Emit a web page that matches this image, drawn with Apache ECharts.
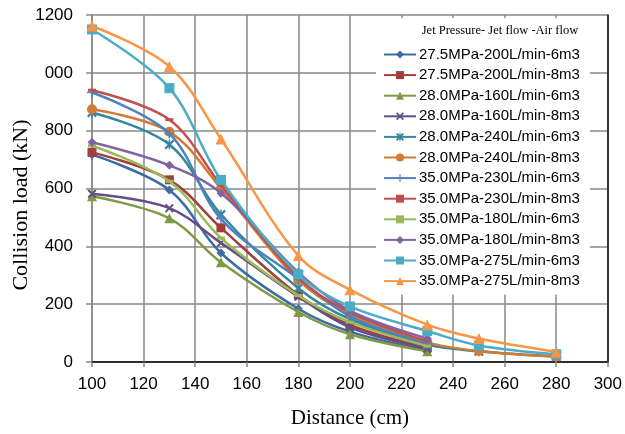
<!DOCTYPE html>
<html>
<head>
<meta charset="utf-8">
<script src="https://cdn.jsdelivr.net/npm/echarts@6/dist/echarts.min.js"></script>
<style>
  html, body { margin: 0; padding: 0; background: #fff; }
  #chart { width: 625px; height: 434px; }
</style>
</head>
<body>
<div id="chart"></div>
<script>
// Distances (cm) at which collision load was measured
const distShort = [100, 130, 150, 180, 200, 230];
const distLong = [100, 130, 150, 180, 200, 230, 250, 280];

// Series names: jet pressure - jet flow - air flow
const seriesNames = [
  '27.5MPa-200L/min-6m3',
  '27.5MPa-200L/min-8m3',
  '28.0MPa-160L/min-6m3',
  '28.0MPa-160L/min-8m3',
  '28.0MPa-240L/min-6m3',
  '28.0MPa-240L/min-8m3',
  '35.0MPa-230L/min-6m3',
  '35.0MPa-230L/min-8m3',
  '35.0MPa-180L/min-6m3',
  '35.0MPa-180L/min-8m3',
  '35.0MPa-275L/min-6m3',
  '35.0MPa-275L/min-8m3'
];

// Collision load (kN) per series
const load_275_200_6 = [717, 595, 377, 184, 105, 40];
const load_275_200_8 = [725, 630, 464, 232, 128, 50];
const load_280_160_6 = [573, 497, 345, 173, 96, 37];
const load_280_160_8 = [582, 532, 412, 226, 120, 45];
const load_280_240_6 = [863, 752, 510, 255, 148, 60, 37, 19];
const load_280_240_8 = [874, 796, 600, 283, 165, 68, 38, 18];
const load_350_230_6 = [932, 790, 495, 288, 158, 62];
const load_350_230_8 = [940, 838, 612, 292, 172, 72];
const load_350_180_6 = [748, 625, 429, 230, 138, 55];
const load_350_180_8 = [760, 680, 584, 310, 178, 81];
const load_350_275_6 = [1150, 947, 630, 303, 192, 107, 57, 27];
const load_350_275_8 = [1162, 1022, 771, 368, 250, 129, 81, 35];

const loads = [
  load_275_200_6, load_275_200_8, load_280_160_6, load_280_160_8,
  load_280_240_6, load_280_240_8, load_350_230_6, load_350_230_8,
  load_350_180_6, load_350_180_8, load_350_275_6, load_350_275_8
];

// Axis tick values
const xTicks = [100, 120, 140, 160, 180, 200, 220, 240, 260, 280, 300];
const yTicks = [0, 200, 400, 600, 800, 1000, 1200];
const yTickText = ['0', '200', '400', '600', '800', '000', '1200'];

const colors = [
  '#3D6BA6', '#A23F3C', '#7E9A44', '#664F85', '#33879E', '#D47A35',
  '#4F81BD', '#C0504D', '#9BBB59', '#8064A2', '#4BACC6', '#F79646'
];

const SYM_X = 'path://M1.6,0L5,3.4L8.4,0L10,1.6L6.6,5L10,8.4L8.4,10L5,6.6L1.6,10L0,8.4L3.4,5L0,1.6Z';
const SYM_STAR = 'path://M1.6,0L5,3.4L8.4,0L10,1.6L6.6,5L10,8.4L8.4,10L5,6.6L1.6,10L0,8.4L3.4,5L0,1.6ZM4.3,0H5.7V10H4.3Z';
const SYM_PLUS = 'path://M4.3,0H5.7V4.3H10V5.7H5.7V10H4.3V5.7H0V4.3H4.3Z';

const symbols = [
  ['diamond', 9], ['rect', 9], ['triangle', 10], [SYM_X, 9],
  [SYM_STAR, 10], ['circle', 10], [SYM_PLUS, 10], ['rect', [8, 3]],
  ['rect', [8, 3]], ['diamond', 9], ['rect', 10], ['triangle', 11]
];

const series = seriesNames.map((name, i) => {
  const xs = loads[i].length > distShort.length ? distLong : distShort;
  return {
    name: name,
    type: 'line',
    xAxisIndex: 0,
    yAxisIndex: 0,
    smooth: 0.35,
    data: loads[i].map((v, k) => [xs[k], v]),
    symbol: symbols[i][0],
    symbolSize: symbols[i][1],
    showAllSymbol: true,
    lineStyle: { width: 2.5, color: colors[i] },
    itemStyle: { color: colors[i] },
    emphasis: { disabled: true },
    z: 2 + i
  };
});

const chart = echarts.init(document.getElementById('chart'), null, { renderer: 'canvas' });

const gridGray = '#888888';
const labelFont = 'Liberation Sans, Arial, sans-serif';
const serifFont = 'Liberation Serif, Times New Roman, serif';

chart.setOption({
  animation: false,
  backgroundColor: '#ffffff',
  color: colors,
  grid: { left: 92, right: 16, top: 15, bottom: 71, containLabel: false },
  xAxis: [
    {
      type: 'value', min: 100, max: 300, interval: 20, position: 'bottom',
      axisLine: { show: true, lineStyle: { color: gridGray, width: 1.5 } },
      axisTick: { show: true, inside: false, length: 5, lineStyle: { color: gridGray, width: 1.5 } },
      axisLabel: {
        margin: 14, color: '#000', fontSize: 17, fontFamily: labelFont,
        customValues: xTicks
      },
      splitLine: { show: true, lineStyle: { color: gridGray, width: 1.5 } },
      name: 'Distance (cm)', nameLocation: 'middle', nameGap: 46,
      nameTextStyle: { color: '#000', fontSize: 21, fontFamily: serifFont }
    },
    {
      type: 'value', min: 100, max: 300, interval: 20, position: 'top',
      axisLine: { show: true, lineStyle: { color: '#111', width: 1.5 } },
      axisTick: { show: false }, axisLabel: { show: false }, splitLine: { show: false }
    }
  ],
  yAxis: [
    {
      type: 'value', min: 0, max: 1200, interval: 200, position: 'left',
      axisLine: { show: true, lineStyle: { color: gridGray, width: 1.5 } },
      axisTick: { show: true, inside: false, length: 6, lineStyle: { color: gridGray, width: 1.5 } },
      axisLabel: {
        margin: 19, color: '#000', fontSize: 17, fontFamily: labelFont,
        formatter: (v) => {
          const k = yTicks.indexOf(v);
          return k >= 0 ? yTickText[k] : '';
        }
      },
      splitLine: { show: true, lineStyle: { color: gridGray, width: 1.5 } }
    },
    {
      type: 'value', min: 0, max: 1200, interval: 200, position: 'right',
      axisLine: { show: true, lineStyle: { color: '#111', width: 1.5 } },
      axisTick: { show: false }, axisLabel: { show: false }, splitLine: { show: false }
    }
  ],
  legend: {
    orient: 'vertical',
    left: 376,
    top: 18,
    padding: [29, 10, 6, 7],
    backgroundColor: '#ffffff',
    itemWidth: 32,
    itemHeight: 10,
    itemGap: 5.6,
    selectedMode: false,
    data: seriesNames,
    textStyle: { color: '#000', fontSize: 15, fontFamily: labelFont, lineHeight: 15, padding: [0, 0, 0, -2] }
  },
  graphic: [
    {
      type: 'text', z: 100,
      x: 500, y: 31,
      style: {
        text: 'Jet Pressure- Jet flow -Air flow',
        font: '12.5px ' + serifFont,
        fill: '#000', align: 'center', verticalAlign: 'middle'
      }
    },
    {
      type: 'text', z: 100,
      x: 21, y: 205, rotation: Math.PI / 2,
      style: {
        text: 'Collision load (kN)',
        font: '22px ' + serifFont,
        fill: '#000', align: 'center', verticalAlign: 'middle'
      }
    }
  ],
  series: series
});
</script>
</body>
</html>
